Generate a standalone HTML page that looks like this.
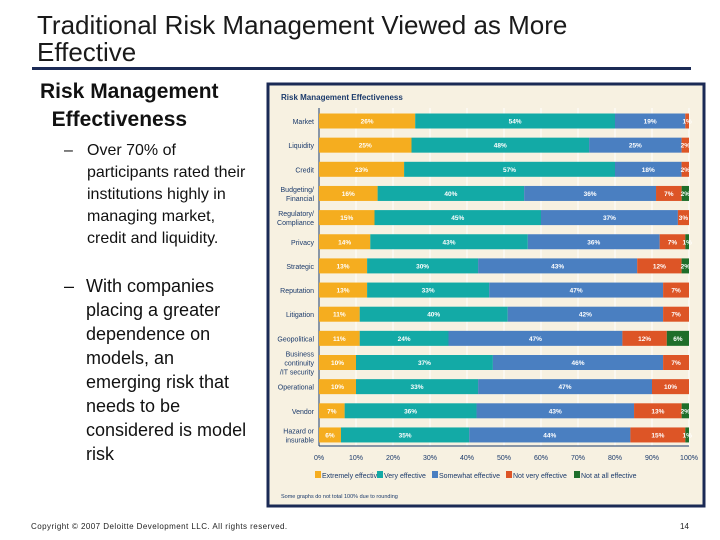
<!DOCTYPE html>
<html><head><meta charset="utf-8"><style>
body{margin:0;width:720px;height:540px;background:#fff;font-family:"Liberation Sans",sans-serif;position:relative;overflow:hidden}
.abs{position:absolute}
</style></head><body>
<div class="abs" style="left:37px;top:12px;font-size:26px;line-height:27px;color:#1a1a1a">Traditional Risk Management Viewed as More<br>Effective</div>
<div class="abs" style="left:32px;top:67px;width:659px;height:3px;background:#1b2a55"></div>
<div class="abs" style="left:40px;top:78px;font-size:21px;font-weight:bold;line-height:28px;color:#111">Risk Management<br>&nbsp;&nbsp;Effectiveness</div>
<div class="abs" style="left:64px;top:140px;font-size:16px;line-height:22px;color:#111">–</div>
<div class="abs" style="left:87px;top:140px;font-size:16px;line-height:22px;color:#111;white-space:nowrap">Over 70% of<br>participants rated their<br>institutions highly in<br>managing market,<br>credit and liquidity.</div>
<div class="abs" style="left:64px;top:274px;font-size:18px;line-height:24px;color:#111">–</div>
<div class="abs" style="left:86px;top:274px;font-size:18px;line-height:24px;color:#111;white-space:nowrap">With companies<br>placing a greater<br>dependence on<br>models, an<br>emerging risk that<br>needs to be<br>considered is model<br>risk</div>
<div class="abs" style="left:31px;top:522px;font-size:8px;letter-spacing:0.45px;color:#222">Copyright © 2007 Deloitte Development LLC. All rights reserved.</div>
<div class="abs" style="left:680px;top:522px;font-size:8px;color:#222">14</div>
<svg class="abs" style="left:0;top:0" width="720" height="540" id="chart"></svg>
<script>
const categories=["Market","Liquidity","Credit","Budgeting/|Financial","Regulatory/|Compliance","Privacy","Strategic","Reputation","Litigation","Geopolitical","Business|continuity|/IT security","Operational","Vendor","Hazard or|insurable"];
const extremely=[26,25,23,16,15,14,13,13,11,11,10,10,7,6];
const very=[54,48,57,40,45,43,30,33,40,24,37,33,36,35];
const somewhat=[19,25,18,36,37,36,43,47,42,47,46,47,43,44];
const notVery=[1,2,2,7,3,7,12,7,7,12,7,10,13,15];
const notAtAll=[0,0,0,2,0,1,2,0,0,6,0,0,2,1];
const seriesNames=["Extremely effective","Very effective","Somewhat effective","Not very effective","Not at all effective"];
const colors=["#f5ad1f","#13aaa6","#4a7fc1","#dd5526","#1e6e2a"];
const ticks=[0,10,20,30,40,50,60,70,80,90,100];
const svg=document.getElementById('chart');const NS="http://www.w3.org/2000/svg";
function mk(t,a,txt){const e=document.createElementNS(NS,t);for(const k in a)e.setAttribute(k,a[k]);if(txt!=null)e.textContent=txt;svg.appendChild(e);return e;}
const X0=319,X1=689,Y0=121,STEP=24.15,BH=15;
const x=v=>X0+(X1-X0)*v/100;const y=i=>Y0+i*STEP;
let e=mk('rect',{x:268,y:84,width:436,height:422,fill:'#f7f1e1',stroke:'#1b2a55','stroke-width':3});

e=mk('text',{x:281,y:100,'font-size':8,'font-weight':'bold',fill:'#1b3a6b'},'Risk Management Effectiveness');

ticks.forEach(t=>{let l=mk('line',{x1:x(t),x2:x(t),y1:108,y2:446,stroke:'#fff','stroke-width':1});

let tx=mk('text',{x:x(t),y:460,'font-size':7,'text-anchor':'middle',fill:'#1b3a6b'},t+'%');
});
e=mk('line',{x1:X0,x2:X1,y1:446,y2:446,stroke:'#1b3a6b','stroke-width':1});
e=mk('line',{x1:X0,x2:X0,y1:108,y2:446,stroke:'#1b3a6b','stroke-width':1});
const series=[extremely,very,somewhat,notVery,notAtAll];
categories.forEach((c,i)=>{
 const lines=c.split('|');const cy=y(i);
 lines.forEach((ln,j)=>{let t=mk('text',{x:314,y:cy+3+(j-(lines.length-1)/2)*9,'font-size':7,'text-anchor':'end',fill:'#1b3a6b'},ln);
 });
 let total=0;series.forEach(s=>total+=s[i]);const sc=100/total;
 let acc=0;
 series.forEach((s,k)=>{const v=s[i];if(v<=0)return;
  const a=acc*sc,b=(acc+v)*sc;
  let r=mk('rect',{x:x(a),y:cy-BH/2,width:x(b)-x(a),height:BH,fill:colors[k]});
  
  let t=mk('text',{x:(x(a)+x(b))/2,y:cy+2.5,'font-size':6.5,'font-weight':'bold','text-anchor':'middle',fill:'#fff'},v+'%');
  
  acc+=v;});
});
let lx=315;const lw=[62,55,74,68,66];
seriesNames.forEach((n,k)=>{let r=mk('rect',{x:lx,y:471,width:6,height:7,fill:colors[k]});
 
 let t=mk('text',{x:lx+7,y:478,'font-size':7,fill:'#1b3a6b'},n);
 lx+=lw[k];});
e=mk('text',{x:281,y:498,'font-size':5.5,fill:'#1b3a6b'},'Some graphs do not total 100% due to rounding');

</script>
</body></html>
